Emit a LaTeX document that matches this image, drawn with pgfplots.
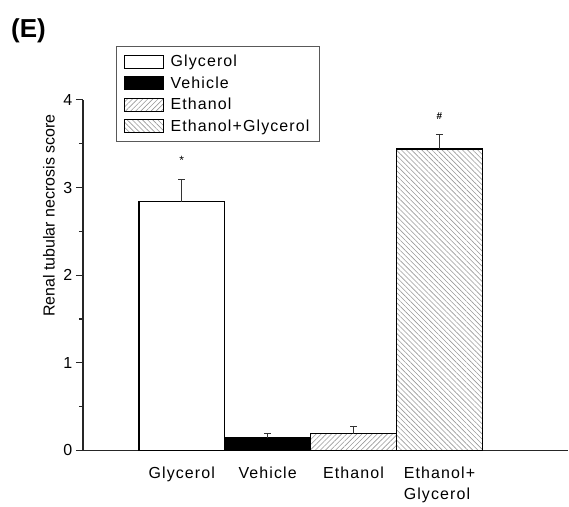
\documentclass[border=0pt]{standalone}
\usepackage{fontspec}
\setmainfont{Liberation Sans}[LetterSpace=7]
\newfontfamily\plainsans{Liberation Sans}
\usepackage{pgfplots}
\pgfplotsset{compat=1.18}
\usetikzlibrary{patterns.meta}

\begin{document}
\begin{tikzpicture}[font=\fontsize{16}{21}\selectfont]
\begin{axis}[
 at={(0pt,0pt)}, anchor=south west,
 scale only axis, width=486pt, height=351pt,
 xmin=-0.151, xmax=5.5, ymin=0, ymax=4,
 axis x line=bottom, axis y line=left,
 axis line style={-, line width=1.4pt, black!85},
 xtick={1,2,3,4},
 xticklabels={Glycerol,Vehicle,Ethanol,Ethanol+\\Glycerol},
 xticklabel style={align=left, yshift=-6pt},
 x tick style={draw=none},
 ytick={0,1,2,3,4}, minor y tick num=1,
 tick align=outside, major tick length=7pt, minor tick length=4pt,
 y tick style={line width=1.2pt, black!85},
 /pgf/number format/assume math mode=true,
 ylabel={\plainsans\fontsize{16}{18}\selectfont Renal tubular necrosis score},
 ylabel style={at={(axis description cs:-0.07,0.67)}, anchor=center},
 clip=false,
 ybar, bar width=86pt, bar shift=0pt,
 legend style={at={(axis description cs:0.0679,1.1538)}, anchor=north west, draw=black!65, line width=1.2pt, legend cell align=left, inner xsep=8pt, inner ysep=6.5pt, row sep=4.5pt},
 legend image code/.code={\draw[#1,line width=1pt] (0pt,-6.5pt) rectangle (39pt,6.5pt); \path (43pt,0pt);},
 error bars/y dir=plus, error bars/y explicit,
 error bars/error bar style={line width=1.1pt, black!80},
 error bars/error mark options={line width=1.1pt, black!80, mark size=3.5pt, rotate=90},
]
\addplot[fill=white, draw=black, line width=1.4pt] coordinates {(1,2.84) +- (0,0.25)};
\addplot[fill=black, draw=black, line width=1.4pt] coordinates {(2,0.14) +- (0,0.05)};
\addplot[pattern={Lines[angle=45,distance=3.6pt,line width=0.6pt]}, pattern color=black!40, draw=black, line width=1.4pt] coordinates {(3,0.19) +- (0,0.08)};
\addplot[pattern={Lines[angle=-45,distance=3.6pt,line width=0.6pt]}, pattern color=black!40, draw=black, line width=1.4pt] coordinates {(4,3.44) +- (0,0.16)};
\legend{Glycerol,Vehicle,Ethanol,Ethanol+Glycerol\hspace{6pt}}
\node[font=\plainsans\fontsize{12}{12}\selectfont] at (axis cs:1,3.31) {*};
\node[font=\plainsans\bfseries\fontsize{10}{10}\selectfont] at (axis cs:4,3.81) {\#};
\end{axis}
\node[font=\plainsans\bfseries\fontsize{26}{28}\selectfont] at (-54.5pt,420.5pt) {(E)};
\path[use as bounding box] (-83pt,-51pt) rectangle (486pt,451pt);
\end{tikzpicture}
\end{document}
